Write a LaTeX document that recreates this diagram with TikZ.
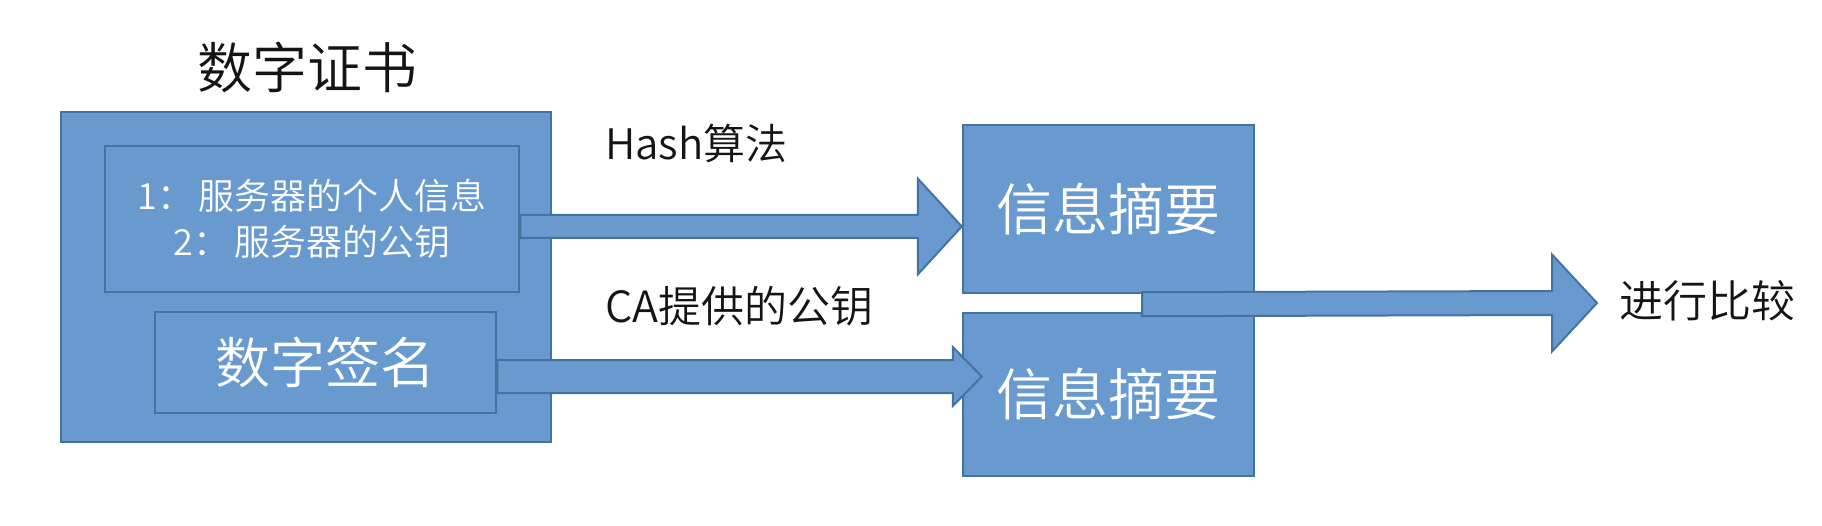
\documentclass[tikz,border=0pt]{standalone}
\usepackage{fontspec}
\setmainfont{Noto Sans CJK SC}[UprightFont=* DemiLight]
\usetikzlibrary{calc}
\definecolor{boxfill}{RGB}{104,154,207}
\definecolor{boxline}{RGB}{70,114,160}
\definecolor{labeltext}{RGB}{20,20,20}
\tikzset{
  box/.style={draw=boxline, fill=boxfill, line width=2.5pt, inner sep=0pt, text=white, align=center},
  arrowbody/.style={draw=boxline, fill=boxfill, line width=2pt, line join=miter},
  lbl/.style={text=labeltext, inner sep=0pt},
}
\newcommand{\barrow}[5]{%
  \draw[arrowbody] ($(#1)+(0,-#3)$) -- ($(#2)+(-#5,-#3)$) -- ($(#2)+(-#5,-#4)$) -- (#2)
    -- ($(#2)+(-#5,#4)$) -- ($(#2)+(-#5,#3)$) -- ($(#1)+(0,#3)$) -- cycle;}
\begin{document}
\begin{tikzpicture}[x=1pt,y=-1pt]
\useasboundingbox (0,0) rectangle (1822,526);
% title
\node[lbl, font=\fontsize{55}{60}\selectfont] (title) at (307,67) {数字证书};
% certificate
\node[box, minimum width=490pt, minimum height=330pt] (cert) at (306,277) {};
\node[box, minimum width=414pt, minimum height=146pt, font=\fontsize{36}{46}\selectfont] (info) at (312,219)
  {1：\hspace{5pt}服务器的个人信息\\2：\hspace{5pt}服务器的公钥};
\node[box, minimum width=341pt, minimum height=101pt, font=\fontsize{55}{60}\selectfont] (sig) at (325.5,362.5) {数字签名};
% digests
\node[box, minimum width=291pt, minimum height=168pt, font=\fontsize{56}{60}\selectfont] (top) at (1108.5,209) {信息摘要};
\node[box, minimum width=291pt, minimum height=163pt, font=\fontsize{56}{60}\selectfont] (bot) at (1108.5,394.5) {信息摘要};
% labels
\node[lbl, anchor=west, font=\fontsize{42}{46}\selectfont] (hash) at (605,143) {Hash算法};
\node[lbl, anchor=west, font=\fontsize{43}{47}\selectfont] (ca) at (605,306) {CA提供的公钥};
\node[lbl, anchor=west, font=\fontsize{44}{48}\selectfont] (cmp) at (1619,301) {进行比较};
% arrow end points
\path (info.east) ++(0,7.5) coordinate (a1s);
\path (top.west) ++(0,17.5) coordinate (a1e);
\path (sig.east) ++(0,14) coordinate (a2s);
\path (bot.west) ++(20,-18) coordinate (a2e);
\path (top.south) ++(33.5,10) coordinate (a3s);
\path (cmp.west) ++(-22,2) coordinate (a3e);
% block arrows
\barrow{a1s}{a1e}{11.5}{48}{44}
\barrow{a2s}{a2e}{16.5}{29.5}{29}
\barrow{a3s}{a3e}{12}{48.5}{45}
\end{tikzpicture}
\end{document}
